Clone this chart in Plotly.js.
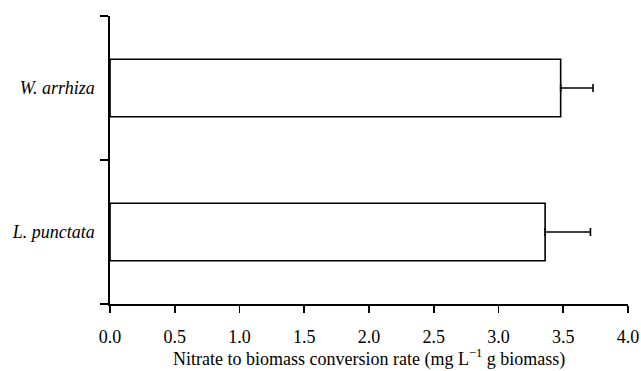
<!DOCTYPE html>
<html>
<head>
<meta charset="utf-8">
<script src="https://cdn.plot.ly/plotly-3.0.1.min.js"></script>
<style>html,body{margin:0;padding:0;background:#fff;}#chart{width:641px;height:371px;}</style>
</head>
<body>
<div id="chart"></div>
<script>
// Data (bottom to top in plot order)
const species = ['L. punctata', 'W. arrhiza'];
const conversionRate = [3.36, 3.48];
const errorPlus = [0.35, 0.25];
const xTickVals = [0, 0.5, 1, 1.5, 2, 2.5, 3, 3.5, 4];
const xTitle = 'Nitrate to biomass conversion rate (mg L<sup>\u22121</sup> g biomass)';

const trace = {
  type: 'bar',
  orientation: 'h',
  y: species,
  x: conversionRate,
  width: 0.4,
  marker: {color: '#ffffff', line: {color: '#000000', width: 1.6}},
  error_x: {type: 'data', symmetric: false, array: errorPlus, arrayminus: [0, 0], color: '#000000', thickness: 1.6, width: 4},
  hoverinfo: 'none'
};

const fam = '"Liberation Serif", "Times New Roman", serif';

const layout = {
  width: 641, height: 371,
  margin: {l: 110, r: 13, t: 16, b: 67},
  paper_bgcolor: '#ffffff', plot_bgcolor: '#ffffff',
  showlegend: false,
  font: {family: fam, color: '#000', size: 18},
  xaxis: {
    range: [0, 4],
    tickvals: xTickVals,
    tickformat: '.1f',
    ticks: 'outside', ticklen: 7, tickwidth: 1.6, tickcolor: '#000',
    ticklabelstandoff: 9,
    showline: true, linecolor: '#000', linewidth: 1.6,
    showgrid: false, zeroline: false,
    tickfont: {family: fam, size: 18, color: '#000'}
  },
  yaxis: {
    type: 'category',
    categoryorder: 'array', categoryarray: species,
    range: [-0.5, 1.5],
    tickson: 'boundaries',
    ticks: 'outside', ticklen: 8, tickwidth: 1.6, tickcolor: '#000',
    ticklabelstandoff: 10,
    showline: true, linecolor: '#000', linewidth: 1.6,
    showgrid: false, zeroline: false,
    tickfont: {family: fam, size: 18, color: '#000', style: 'italic'}
  },
  annotations: [{
    text: xTitle,
    xref: 'paper', yref: 'paper',
    x: 0.5, y: -54 / 288,
    xanchor: 'center', yanchor: 'middle',
    showarrow: false, borderpad: 0,
    font: {family: fam, size: 18, color: '#000'}
  }]
};

Plotly.newPlot('chart', [trace], layout, {displayModeBar: false, staticPlot: true});
</script>
</body>
</html>
